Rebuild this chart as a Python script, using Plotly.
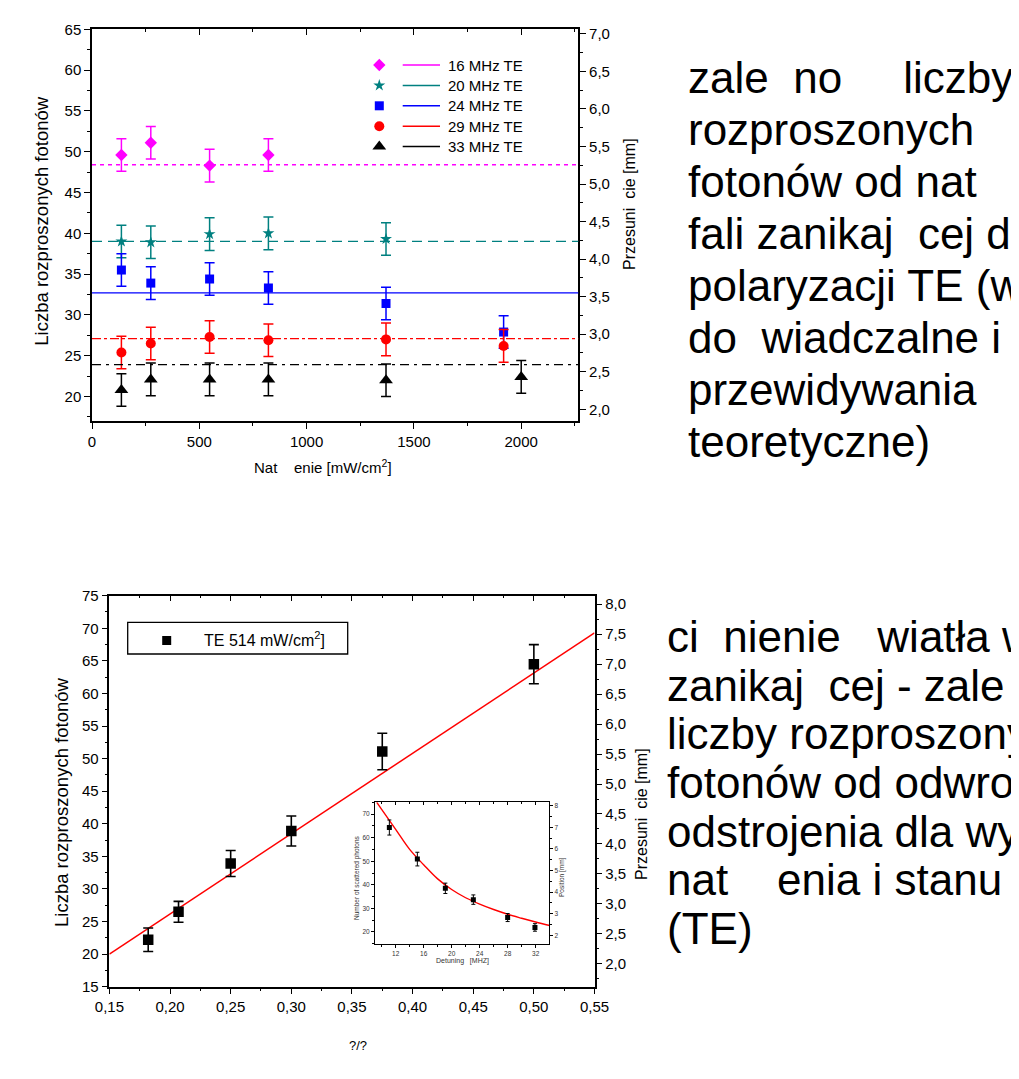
import plotly.graph_objects as go

W, H = 1019, 1079
OFF = 8  # page body margin of the html page
FONT = "Liberation Sans, Arial, Helvetica, sans-serif"
NB = "\u00a0"

# ---------------- data: top chart (scattered photons vs intensity) ----------------
series_names = ["16 MHz TE", "20 MHz TE", "24 MHz TE", "29 MHz TE", "33 MHz TE"]
intensity_16 = [137, 274, 548, 822]
photons_16 = [49.6, 51.1, 48.3, 49.6]
err_16 = [2.0, 2.0, 2.0, 2.0]
intensity_20 = [137, 274, 548, 822, 1370]
photons_20 = [39.0, 38.9, 39.9, 40.0, 39.3]
err_20 = [2.0, 2.0, 2.0, 2.0, 2.0]
intensity_24 = [137, 274, 548, 822, 1370, 1918]
photons_24 = [35.5, 33.9, 34.4, 33.3, 31.4, 27.9]
err_24 = [2.0, 2.0, 2.0, 2.0, 2.0, 2.0]
intensity_29 = [137, 274, 548, 822, 1370, 1918]
photons_29 = [25.4, 26.5, 27.3, 26.9, 27.0, 26.2]
err_29 = [2.0, 2.0, 2.0, 2.0, 2.0, 2.0]
intensity_33 = [137, 274, 548, 822, 1370, 2000]
photons_33 = [20.8, 22.1, 22.1, 22.1, 22.0, 22.4]
err_33 = [2.0, 2.0, 2.0, 2.0, 2.0, 2.0]
mean_levels = [48.4, 39.0, 32.7, 27.1, 23.9]

# ---------------- data: bottom chart (photons vs Gamma/Delta) ----------------
ratio = [0.182, 0.207, 0.250, 0.300, 0.375, 0.500]
photons_ratio = [22.2, 26.5, 33.9, 38.9, 51.1, 64.5]
err_ratio = [1.8, 1.6, 2.0, 2.3, 2.8, 3.0]
fit_x = [0.15, 0.55]
fit_y = [20.0, 69.3]
legend_bottom = "TE 514 mW/cm<sup>2</sup>]"

# ---------------- data: inset (photons vs detuning) ----------------
detuning = [11.1, 15.1, 19.1, 23.1, 28.0, 31.9]
photons_det = [64.3, 50.9, 38.5, 33.7, 26.1, 21.9]
err_det = [3.2, 2.9, 2.2, 2.0, 1.7, 1.6]
curve_det = [9.3, 10, 12, 14, 16, 18, 20, 22, 24, 26, 28, 30, 32, 34]
curve_photons = [75.0, 72.0, 63.5, 55.0, 48.5, 42.5, 38.0, 34.5, 31.8, 29.5, 27.5, 25.8, 24.2, 22.7]

# ---------------- side texts ----------------
top_text = [
    "zale" + NB * 2 + "no" + NB * 5 + "liczby",
    "rozproszonych",
    "fotonów od nat",
    "fali zanikaj" + NB * 2 + "cej d",
    "polaryzacji TE (w",
    "do" + NB * 2 + "wiadczalne i",
    "przewidywania",
    "teoretyczne)",
]
bottom_text = [
    "ci" + NB * 2 + "nienie" + NB * 3 + "wiatła w",
    "zanikaj" + NB * 2 + "cej - zale",
    "liczby rozproszony",
    "fotonów od odwro",
    "odstrojenia dla wy",
    "nat" + NB * 4 + "enia i stanu",
    "(TE)",
]

# ---------------- styles ----------------
colors = ["#FF00FF", "#008080", "#0000FF", "#FF0000", "#000000"]
symbols = ["diamond", "star", "square", "circle", "triangle-up"]
msizes = [9.5, 9, 9, 10, 12]
dashes = ["4px,4px", "10px,6px", "solid", "9px,3px,3px,3px", "9px,5px,3px,5px"]

top_x = [intensity_16, intensity_20, intensity_24, intensity_29, intensity_33]
top_y = [photons_16, photons_20, photons_24, photons_29, photons_33]
top_e = [err_16, err_20, err_24, err_29, err_33]


def dx(p0, p1):
    """horizontal pixel span on the page -> paper domain"""
    return [(p0 - OFF) / W, (p1 - OFF) / W]


def dy(top, bottom):
    """vertical pixel span on the page -> paper domain"""
    return [1 - (bottom - OFF) / H, 1 - (top - OFF) / H]


fig = go.Figure()

# top chart series
for i in range(5):
    fig.add_trace(go.Scatter(
        x=top_x[i], y=top_y[i], mode="markers", name=series_names[i],
        marker=dict(symbol=symbols[i], size=msizes[i], color=colors[i], line=dict(width=0)),
        error_y=dict(type="data", array=top_e[i], color=colors[i], thickness=1.5, width=5),
        xaxis="x", yaxis="y", showlegend=False))

# bottom chart
fig.add_trace(go.Scatter(x=fit_x, y=fit_y, mode="lines", line=dict(color="#FF0000", width=1.5),
                         xaxis="x2", yaxis="y3", showlegend=False))
fig.add_trace(go.Scatter(
    x=ratio, y=photons_ratio, mode="markers",
    marker=dict(symbol="square", size=10.5, color="black"),
    error_y=dict(type="data", array=err_ratio, color="black", thickness=1.6, width=5),
    xaxis="x2", yaxis="y3", showlegend=False))

# inset
fig.add_trace(go.Scatter(x=curve_det, y=curve_photons, mode="lines", line=dict(color="#FF0000", width=1.4, shape="spline"),
                         xaxis="x5", yaxis="y5", showlegend=False))
fig.add_trace(go.Scatter(
    x=detuning, y=photons_det, mode="markers",
    marker=dict(symbol="square", size=5, color="black"),
    error_y=dict(type="data", array=err_det, color="black", thickness=1, width=2),
    xaxis="x5", yaxis="y5", showlegend=False))

# invisible carriers so that the secondary (right / top) axes get drawn
for xa, ya, xs, ys in [("x", "y2", intensity_16, photons_16), ("x3", "y", intensity_16, photons_16),
                       ("x2", "y4", ratio, photons_ratio), ("x4", "y3", ratio, photons_ratio),
                       ("x5", "y6", detuning, photons_det), ("x6", "y5", detuning, photons_det)]:
    fig.add_trace(go.Scatter(x=xs, y=ys, mode="markers", marker=dict(opacity=0, size=1),
                             xaxis=xa, yaxis=ya, showlegend=False, hoverinfo="skip"))

# legend keys (page-pixel overlay axis)
leg_rows = [65 + 20.4 * i for i in range(5)]
for i in range(5):
    fig.add_trace(go.Scatter(
        x=[379.3], y=[leg_rows[i]], mode="markers",
        marker=dict(symbol=symbols[i], size=msizes[i], color=colors[i]),
        xaxis="x7", yaxis="y7", showlegend=False, hoverinfo="skip"))
fig.add_trace(go.Scatter(
    x=[166.7], y=[640.5], mode="markers", marker=dict(symbol="square", size=9, color="black"),
    xaxis="x7", yaxis="y7", showlegend=False, hoverinfo="skip"))

shapes = []
for i in range(5):
    shapes.append(dict(type="line", xref="x domain", yref="y", x0=0, x1=1,
                       y0=mean_levels[i], y1=mean_levels[i],
                       line=dict(color=colors[i], width=1.3, dash=dashes[i])))
    shapes.append(dict(type="line", xref="x7", yref="y7", x0=402.7, x1=440,
                       y0=leg_rows[i], y1=leg_rows[i], line=dict(color=colors[i], width=1.5)))
shapes.append(dict(type="rect", xref="x7", yref="y7", x0=127.7, x1=347.7, y0=622.3, y1=654,
                   line=dict(color="black", width=1.3), fillcolor="rgba(0,0,0,0)"))


def ann(text, x, y, size, angle=0, xanchor="center", color="black"):
    return dict(text=text, x=x, y=y, xref="x7", yref="y7", showarrow=False,
                textangle=angle, xanchor=xanchor, yanchor="middle",
                font=dict(family=FONT, size=size, color=color))


annotations = [
    ann("Liczba rozproszonych fotonów", 42, 221.7, 18.5, -90),
    ann("Przesuni" + NB * 2 + "cie [mm]", 629, 204, 16, -90),
    ann("Nat" + NB * 4 + "enie [mW/cm<sup>2</sup>]", 251.7, 466, 15, 0, "left"),
    ann("Liczba rozproszonych fotonów", 61, 803, 18.5, -90),
    ann("Przesuni" + NB * 2 + "cie [mm]", 641, 814, 16, -90),
    ann("?/?", 358, 1045, 13),
    ann("Number of scattered photons", 357, 878, 6.5, -90, color="#333"),
    ann("Position [mm]", 562, 877, 6.5, -90, color="#333"),
    ann("Detuning" + NB * 3 + "[MHZ]", 462, 961, 7, color="#333"),
    ann(legend_bottom, 201.7, 639, 16, 0, "left"),
]
for i in range(5):
    annotations.append(ann(series_names[i], 446, leg_rows[i], 15, 0, "left"))
for i, line in enumerate(top_text):
    annotations.append(ann(line, 686, 77 + 52.1 * i, 44, 0, "left"))
for i, line in enumerate(bottom_text):
    annotations.append(ann(line, 665, 636.7 + 48.6 * i, 44, 0, "left"))


def ax(**kw):
    base = dict(showline=True, linecolor="black", linewidth=1.5, showgrid=False, zeroline=False,
                ticks="outside", ticklen=6, tickwidth=1.3, tickcolor="black", automargin=False,
                tickfont=dict(family=FONT, size=15, color="black"), fixedrange=True)
    base.update(kw)
    return base


def minor(dt, ticks="outside", ln=3):
    return dict(dtick=dt, ticks=ticks, ticklen=ln, tickwidth=1.1, tickcolor="black")


small_font = dict(family=FONT, size=6.5, color="#333")

fig.update_layout(
    template="none",
    width=W, height=H, margin=dict(l=0, r=0, t=0, b=0, pad=0, autoexpand=False),
    paper_bgcolor="white", plot_bgcolor="rgba(0,0,0,0)",
    separators=",.", showlegend=False,
    # top chart
    xaxis=ax(domain=dx(92, 578.3), anchor="y", range=[0, 2266], dtick=500, tick0=0, minor=minor(250)),
    xaxis3=ax(overlaying="x", anchor="y", side="top", range=[0, 2266], dtick=500, tick0=0,
              ticks="inside", showticklabels=False, minor=minor(250, "inside")),
    yaxis=ax(domain=dy(29.3, 421), anchor="x", range=[17, 65], dtick=5, tick0=0, minor=minor(2.5)),
    yaxis2=ax(overlaying="y", anchor="x", side="right", range=[1.844, 7.06], dtick=0.5, tick0=0,
              tickformat=".1f", minor=minor(0.25)),
    # bottom chart
    xaxis2=ax(domain=dx(109.4, 594.5), anchor="y3", range=[0.15, 0.55], dtick=0.05, tick0=0,
              tickformat=".2f", minor=minor(0.025)),
    xaxis4=ax(overlaying="x2", anchor="y3", side="top", range=[0.15, 0.55], dtick=0.05, tick0=0,
              ticks="inside", showticklabels=False, minor=minor(0.025, "inside")),
    yaxis3=ax(domain=dy(595.7, 986.7), anchor="x2", range=[15, 75], dtick=5, tick0=0,
              minor=minor(2.5)),
    yaxis4=ax(overlaying="y3", anchor="x2", side="right", range=[1.62, 8.14], dtick=0.5, tick0=0,
              tickformat=".1f", minor=minor(0.25)),
    # inset
    xaxis5=ax(domain=dx(375, 549.3), anchor="y5", range=[9.05, 33.95], dtick=4, tick0=0,
              linewidth=1, ticklen=3, tickwidth=0.8, tickfont=small_font, minor=minor(2, ln=2)),
    xaxis6=ax(overlaying="x5", anchor="y5", side="top", range=[9.05, 33.95], dtick=4, tick0=0,
              linewidth=1, ticklen=3, tickwidth=0.8, ticks="inside", showticklabels=False,
              minor=minor(2, "inside", 2)),
    yaxis5=ax(domain=dy(802.3, 943.7), anchor="x5", range=[15, 75], dtick=10, tick0=0,
              linewidth=1, ticklen=3, tickwidth=0.8, tickfont=small_font, minor=minor(5, ln=2)),
    yaxis6=ax(overlaying="y5", anchor="x5", side="right", range=[1.61, 8.16], dtick=1, tick0=0,
              linewidth=1, ticklen=3, tickwidth=0.8, tickfont=small_font, minor=minor(0.5, ln=2)),
    # page-pixel overlay for legends and texts
    xaxis7=dict(domain=[0, 1], range=[OFF, W + OFF], visible=False, anchor="y7", fixedrange=True, automargin=False),
    yaxis7=dict(domain=[0, 1], range=[H + OFF, OFF], visible=False, anchor="x7", fixedrange=True, automargin=False),
    shapes=shapes,
    annotations=annotations,
)

fig.write_html("out.html")
